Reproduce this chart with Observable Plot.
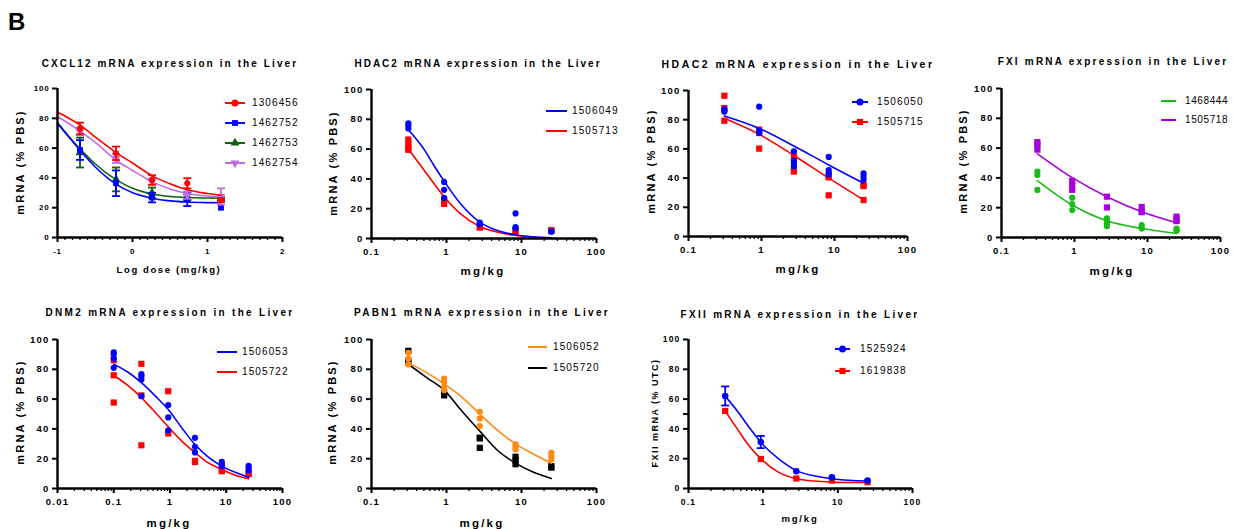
<!DOCTYPE html>
<html><head><meta charset="utf-8">
<script src="https://cdn.jsdelivr.net/npm/d3@7"></script>
<script src="https://cdn.jsdelivr.net/npm/@observablehq/plot@0.6"></script>
<style>
body{margin:0;background:#fff;}
#root{position:relative;width:1233px;height:529px;overflow:hidden;background:#fff;font-family:Arial,"Liberation Sans",Helvetica,sans-serif;color:#000;}
.abs{position:absolute;white-space:nowrap;line-height:1;}
</style></head>
<body><div id="root"></div>
<script>
// ---------------- DATA ----------------
// Panel 1: CXCL12 (log dose, mean ± error)
const cxclLogDose = [-0.7, -0.22, 0.26, 0.73, 1.18];
const cxclSeries = ["1306456", "1462752", "1462753", "1462754"];
const cxcl_1306456_mean = [73.2, 56.5, 38.6, 36.4, 25.0];
const cxcl_1306456_err  = [3.9, 4.5, 3.2, 3.4, 1.2];
const cxcl_1462752_mean = [58.7, 36.4, 26.8, 25.7, 20.0];
const cxcl_1462752_err  = [6.6, 8.6, 3.2, 4.6, 0];
const cxcl_1462753_mean = [57.0, 39.0, 30.0, 27.0, 26.0];
const cxcl_1462753_err  = [10.0, 8.0, 3.5, 2.0, 1.0];
const cxcl_1462754_mean = [71.0, 53.0, 37.5, 28.5, 27.5];
const cxcl_1462754_err  = [2.5, 3.0, 2.0, 2.5, 5.5];
const cxclCurveLogDose  = [-1, -0.85, -0.7, -0.5, -0.22, 0, 0.26, 0.5, 0.73, 1, 1.18];
const cxcl_1306456_fit  = [84.2, 80, 75.5, 67.5, 57, 50, 41.5, 36, 32, 29.5, 28.3];
const cxcl_1462752_fit  = [76.6, 67.5, 58.5, 47.5, 35.8, 30, 26.4, 24.6, 23.8, 23.4, 23.3];
const cxcl_1462753_fit  = [77, 68, 59.5, 49.5, 38.8, 33, 29.2, 27.5, 26.8, 26.5, 26.4];
const cxcl_1462754_fit  = [81, 76.5, 71.4, 64, 52, 45, 37.5, 32.5, 29.5, 27.8, 27.2];

// Common dose levels (mg/kg)
const doses5 = [0.31, 0.93, 2.78, 8.33, 25];
const doses6 = [0.1, 0.31, 0.93, 2.78, 8.33, 25];

// Panel 2: HDAC2 (replicates)
const hdac2a_1506049 = [[77.3, 75.9, 73.9], [38, 32.7, 27.3], [10.7, 9.5], [16.8, 7.7, 6.8], [5, 4.5]];
const hdac2a_1505713 = [[66.4, 63.6, 61, 59.5], [25.5, 23.2], [7.3, 8], [5.5, 4.5], [5.7, 5]];
const hdac2aFitDose  = [0.31, 0.5, 0.7, 0.93, 1.5, 2.78, 5, 8.33, 15, 25];
const hdac2a_1506049_fit = [73, 60, 48, 38.5, 24, 11, 5, 2.5, 1, 0.5];
const hdac2a_1505713_fit = [60, 46, 36, 28, 17, 8, 4, 2, 1, 0.5];

// Panel 3: HDAC2 (second pair)
const hdac2b_1506050 = [[87.3, 86.1, 85.5], [88.9, 72.5, 70.9], [58.4, 52, 50.5, 48.2], [54.5, 45.5, 43.6, 42.5], [43.2, 41.4, 39.1]];
const hdac2b_1505715 = [[96.4, 88, 79.3], [73.2, 70.9, 60.2], [55, 46, 44.5], [41, 40.5, 28.2], [35.5, 34.5, 25]];
const hdac2b_1506050_fit = [82.5, 74, 62, 49, 36.5];
const hdac2b_1505715_fit = [81, 70, 55.5, 40, 25];

// Panel 4: FXI
const fxi_1468444 = [[44.3, 42, 31.9], [26.7, 22.5, 18.4], [12.8, 11.7, 9.4, 7.6], [8.3, 6.7, 6], [6, 4.9, 4.5]];
const fxi_1505718 = [[64, 62, 59], [38, 35, 32], [27.4, 20.2], [20.5, 18, 17], [14, 12, 11]];
const fxi_1468444_fit = [38.2, 21.8, 11.2, 6, 2.7];
const fxi_1505718_fit = [56.2, 40.2, 27.4, 17.3, 9.9];

// Panel 5: DNM2
const dnm2_1506053 = [[91.3, 89.9, 87.2, 81], [76.7, 75.4, 73.2, 62], [56, 47.7, 39.1], [34, 28, 24.2], [17.9, 16.3, 15], [15.2, 14.1, 12.3]];
const dnm2_1505722 = [[86.1, 76, 57.7], [83.7, 62.5, 29], [65.3, 36.9], [18.5, 17.8], [11.6, 12.3], [10.5, 9.6]];
const dnm2FitDose = [0.1, 0.18, 0.31, 0.55, 0.93, 1.6, 2.78, 4.8, 8.33, 14, 25];
const dnm2_1506053_fit = [83.5, 78, 71, 62, 53, 41, 29.5, 21, 15, 11, 7.5];
const dnm2_1505722_fit = [76, 69, 61, 51, 41.4, 32, 24.2, 17.2, 12.8, 9, 6.5];

// Panel 6: PABN1
const pabn1_1506052 = [[91.1, 87, 83.3], [73.7, 71.4, 68.3, 66], [51.5, 47, 41.9], [29.7, 27.9, 26.2], [24, 21.7, 19.5]];
const pabn1_1505720 = [[92.4, 86, 84.4], [64.3, 62.5], [34.1, 33.6, 27.3], [21.3, 19, 16.3], [15, 14]];
const pabn1FitDose = [0.31, 0.55, 0.93, 1.6, 2.78, 4.8, 8.33, 14, 25];
const pabn1_1506052_fit = [84.3, 77.6, 70.2, 61.3, 50, 39, 30, 23.5, 17];
const pabn1_1505720_fit = [83.4, 74.3, 66, 52, 38.5, 25.5, 17, 11.2, 6.7];

// Panel 7: FXII (mean ± error)
const fxii_1525924_mean = [62.1, 31.2, 11.6, 7.6, 5.3];
const fxii_1525924_err  = [6.4, 4.1, 0, 0, 0];
const fxii_1619838_mean = [52.1, 19.8, 6.7, 5.3, 4.2];
const fxii_1619838_err  = [0, 0, 0, 0, 0];
const fxiiFitDose = [0.31, 0.45, 0.65, 0.93, 1.6, 2.78, 4.8, 8.33, 14, 25];
const fxii_1525924_fit = [62, 52, 41, 31, 20, 12, 8.5, 6.5, 5.5, 5];
const fxii_1619838_fit = [52, 40, 28.5, 20, 11, 6.5, 5, 4.3, 4, 4];

// Tick values
const yTicks = [0, 20, 40, 60, 80, 100];
const linTicks = [-1, 0, 1, 2];
const logTicks3 = [0.1, 1, 10, 100];
const logTicks4 = [0.01, 0.1, 1, 10, 100];

// Colors
const RED = "#ff0000", BLUE = "#0000ff", DKGREEN = "#0b620b", LAVENDER = "#bf6be3",
      GREEN = "#1cbb1c", PURPLE = "#a700df", ORANGE = "#ff8a12", BLACK = "#000000";

// ---------------- HELPERS ----------------
const FONT = 'Arial, "Liberation Sans", Helvetica, sans-serif';
const root = document.getElementById("root");

function txt(str, x, y, o = {}) {
  const d = document.createElement("div");
  d.className = "abs";
  d.textContent = str;
  const tx = o.anchor === "start" ? "0" : "-50%";
  Object.assign(d.style, {
    left: x + "px", top: y + "px",
    fontSize: (o.size || 10) + "px",
    fontWeight: o.weight || "bold",
    letterSpacing: (o.ls ?? 1.5) + "px",
    transform: `translate(${tx},-50%)`
  });
  if (o.rotate) d.style.transform = "translate(-50%,-50%) rotate(-90deg)";
  root.appendChild(d);
}

const capSymbol = {draw(c, size) { const r = Math.sqrt(size / Math.PI); c.moveTo(-r, 0); c.lineTo(r, 0); }};
const symMap = {circle: d3.symbolCircle, square: d3.symbolSquare, triangle: d3.symbolTriangle};

function reps(doses, values) { return doses.flatMap((d, i) => values[i].map(v => ({x: d, y: v}))); }
function fit(xs, ys) { return xs.map((x, i) => ({x, y: ys[i]})); }
function meanErr(xs, m, e) { return xs.map((x, i) => ({x, y: m[i], lo: m[i] - e[i], hi: m[i] + e[i], e: e[i]})); }

function seriesMarks({fitRows, pts, color, symbol = "circle", r = 3, rotate = 0, err = false}) {
  const marks = [Plot.line(fitRows, {x: "x", y: "y", stroke: color, strokeWidth: 1.6, curve: "monotone-x"})];
  if (err) {
    const er = pts.filter(d => d.e > 0);
    marks.push(Plot.link(er, {x1: "x", x2: "x", y1: "lo", y2: "hi", stroke: color, strokeWidth: 1.8}));
    marks.push(Plot.dot(er, {x: "x", y: "lo", symbol: capSymbol, r: 4, stroke: color, strokeWidth: 1.8}));
    marks.push(Plot.dot(er, {x: "x", y: "hi", symbol: capSymbol, r: 4, stroke: color, strokeWidth: 1.8}));
  }
  marks.push(Plot.dot(pts, {x: "x", y: "y", fill: color, r, symbol, rotate}));
  return marks;
}

function logMinor(lo, hi) { const out = []; for (let e = lo; e < hi; e++) for (let k = 2; k <= 9; k++) out.push(+(k * 10 ** e).toPrecision(3)); return out; }

function panel(cfg, marks) {
  const mL = 50, mR = 12, mT = 10, mB = 34;
  const w = cfg.x1 - cfg.x0, h = cfg.y0 - cfg.y100;
  const fs = cfg.tickFont || 9.5;
  const svg = Plot.plot({
    width: w + mL + mR, height: h + mT + mB,
    marginLeft: mL, marginRight: mR, marginTop: mT, marginBottom: mB,
    x: {type: cfg.xType, domain: cfg.xDomain},
    y: {domain: [0, 100]},
    style: `font-family:${FONT};font-size:${fs}px;font-weight:bold;letter-spacing:${cfg.tickLs ?? 1.2}px;overflow:visible;background:transparent;color:#000;`,
    marks: [
      ...marks,
      Plot.axisY({ticks: yTicks, tickSize: 5, tickPadding: 3, strokeWidth: 2, label: null, tickFormat: d => String(d), fontSize: fs, fontWeight: "bold"}),
      ...(cfg.yMinor ? [Plot.axisY({ticks: cfg.yMinor, tickSize: 5, strokeWidth: 2, label: null, tickFormat: () => ""})] : []),
      Plot.axisX({ticks: cfg.xMajor, tickSize: 5, tickPadding: cfg.xPad ?? 5, strokeWidth: 2, label: null, tickFormat: d => String(d), fontSize: fs, fontWeight: "bold"}),
      Plot.axisX({ticks: cfg.xMinor, tickSize: 3, strokeWidth: 1.3, label: null, tickFormat: () => ""}),
      Plot.ruleX([cfg.xDomain[0]], {strokeWidth: 2.4, stroke: "#000"}),
      Plot.ruleY([0], {strokeWidth: 2.4, stroke: "#000"})
    ]
  });
  Object.assign(svg.style, {position: "absolute", left: (cfg.x0 - mL) + "px", top: (cfg.y100 - mT) + "px"});
  root.appendChild(svg);
}

function legend(items, x1, x2, textX, o = {}) {
  items.forEach(it => {
    const svg = d3.create("svg").attr("width", x2 - x1 + 12).attr("height", 14)
      .style("position", "absolute").style("left", (x1 - 6) + "px").style("top", (it.y - 7) + "px").style("overflow", "visible");
    svg.append("line").attr("x1", 6).attr("x2", 6 + x2 - x1).attr("y1", 7).attr("y2", 7)
      .attr("stroke", it.color).attr("stroke-width", 2);
    if (it.symbol) {
      const r = it.r || 3.5;
      svg.append("path").attr("d", d3.symbol().type(symMap[it.symbol]).size(Math.PI * r * r)())
        .attr("transform", `translate(${6 + (x2 - x1) / 2},7) rotate(${it.rotate || 0})`).attr("fill", it.color);
    }
    root.appendChild(svg.node());
    txt(it.label, textX, it.y, {anchor: "start", weight: "normal", size: o.size || 10, ls: o.ls ?? 1.1});
  });
}

// ---------------- DRAW ----------------
txt("B", 8, 22, {anchor: "start", size: 24, ls: 0});

// Panel 1: CXCL12
panel({x0: 57, x1: 282, y100: 88, y0: 237, xType: "linear", xDomain: [-1, 2], xMajor: linTicks,
  xMinor: d3.range(-10, 21).filter(i => i % 10 !== 0).map(i => i / 10), tickFont: 8, tickLs: 0.8, xPad: 6}, [
  ...seriesMarks({fitRows: fit(cxclCurveLogDose, cxcl_1462753_fit), pts: meanErr(cxclLogDose, cxcl_1462753_mean, cxcl_1462753_err), color: DKGREEN, symbol: "triangle", r: 3.3, err: true}),
  ...seriesMarks({fitRows: fit(cxclCurveLogDose, cxcl_1462752_fit), pts: meanErr(cxclLogDose, cxcl_1462752_mean, cxcl_1462752_err), color: BLUE, symbol: "square", r: 3.3, err: true}),
  ...seriesMarks({fitRows: fit(cxclCurveLogDose, cxcl_1462754_fit), pts: meanErr(cxclLogDose, cxcl_1462754_mean, cxcl_1462754_err), color: LAVENDER, symbol: "triangle", rotate: 180, r: 3.3, err: true}),
  ...seriesMarks({fitRows: fit(cxclCurveLogDose, cxcl_1306456_fit), pts: meanErr(cxclLogDose, cxcl_1306456_mean, cxcl_1306456_err), color: RED, symbol: "circle", r: 3, err: true})
]);
txt("CXCL12 mRNA expression in the Liver", 170, 64, {size: 10, ls: 2.1});
txt("mRNA (% PBS)", 20, 162, {size: 11, ls: 2.2, rotate: true});
txt("Log dose (mg/kg)", 169, 270, {size: 9.5, ls: 1.6});
legend([
  {label: cxclSeries[0], y: 103, color: RED, symbol: "circle", r: 3.5},
  {label: cxclSeries[1], y: 123, color: BLUE, symbol: "square", r: 3.3},
  {label: cxclSeries[2], y: 143, color: DKGREEN, symbol: "triangle", r: 3.3},
  {label: cxclSeries[3], y: 163, color: LAVENDER, symbol: "triangle", rotate: 180, r: 3.3}
], 225, 245, 252);

// Panel 2: HDAC2
panel({x0: 371, x1: 596, y100: 89, y0: 238, xType: "log", xDomain: [0.1, 100], xMajor: logTicks3, xMinor: logMinor(-1, 2)}, [
  ...seriesMarks({fitRows: fit(hdac2aFitDose, hdac2a_1505713_fit), pts: reps(doses5, hdac2a_1505713), color: RED, symbol: "square", r: 3.5}),
  ...seriesMarks({fitRows: fit(hdac2aFitDose, hdac2a_1506049_fit), pts: reps(doses5, hdac2a_1506049), color: BLUE, symbol: "circle", r: 3.1})
]);
txt("HDAC2 mRNA expression in the Liver", 478, 64, {size: 10, ls: 2.0});
txt("mRNA (% PBS)", 333, 163, {size: 11, ls: 2.2, rotate: true});
txt("mg/kg", 483, 272, {size: 11.5, ls: 2.2});
legend([{label: "1506049", y: 111, color: BLUE}, {label: "1505713", y: 131, color: RED}], 546, 567, 572);

// Panel 3: HDAC2
panel({x0: 688, x1: 907, y100: 90, y0: 236, xType: "log", xDomain: [0.1, 100], xMajor: logTicks3, xMinor: logMinor(-1, 2)}, [
  ...seriesMarks({fitRows: fit(doses5, hdac2b_1505715_fit), pts: reps(doses5, hdac2b_1505715), color: RED, symbol: "square", r: 3.5}),
  ...seriesMarks({fitRows: fit(doses5, hdac2b_1506050_fit), pts: reps(doses5, hdac2b_1506050), color: BLUE, symbol: "circle", r: 3.1})
]);
txt("HDAC2 mRNA expression in the Liver", 798, 64, {size: 10.5, ls: 2.5});
txt("mRNA (% PBS)", 651, 161, {size: 11, ls: 2.2, rotate: true});
txt("mg/kg", 798, 270, {size: 11.5, ls: 2.2});
legend([{label: "1506050", y: 102, color: BLUE, symbol: "circle", r: 3.5}, {label: "1505715", y: 122, color: RED, symbol: "square", r: 3.5}], 852, 868, 877);

// Panel 4: FXI
panel({x0: 1001, x1: 1220, y100: 88, y0: 237, xType: "log", xDomain: [0.1, 100], xMajor: logTicks3, xMinor: logMinor(-1, 2)}, [
  ...seriesMarks({fitRows: fit(doses5, fxi_1505718_fit), pts: reps(doses5, fxi_1505718), color: PURPLE, symbol: "square", r: 3.5}),
  ...seriesMarks({fitRows: fit(doses5, fxi_1468444_fit), pts: reps(doses5, fxi_1468444), color: GREEN, symbol: "circle", r: 3.1})
]);
txt("FXI mRNA expression in the Liver", 1113, 62, {size: 10, ls: 2.2});
txt("mRNA (% PBS)", 963, 161, {size: 11, ls: 2.2, rotate: true});
txt("mg/kg", 1112, 272, {size: 11.5, ls: 2.2});
legend([{label: "1468444", y: 101, color: GREEN}, {label: "1505718", y: 120, color: PURPLE}], 1161, 1176, 1185, {ls: 0.6});

// Panel 5: DNM2
panel({x0: 57, x1: 282, y100: 339, y0: 488, xType: "log", xDomain: [0.01, 100], xMajor: logTicks4, xMinor: logMinor(-2, 2)}, [
  ...seriesMarks({fitRows: fit(dnm2FitDose, dnm2_1505722_fit), pts: reps(doses6, dnm2_1505722), color: RED, symbol: "square", r: 3.5}),
  ...seriesMarks({fitRows: fit(dnm2FitDose, dnm2_1506053_fit), pts: reps(doses6, dnm2_1506053), color: BLUE, symbol: "circle", r: 3.1})
]);
txt("DNM2 mRNA expression in the Liver", 170, 313, {size: 10, ls: 2.3});
txt("mRNA (% PBS)", 20, 412, {size: 11, ls: 2.2, rotate: true});
txt("mg/kg", 169, 524, {size: 11.5, ls: 2.2});
legend([{label: "1506053", y: 352, color: BLUE}, {label: "1505722", y: 372, color: RED}], 217, 237, 242);

// Panel 6: PABN1
panel({x0: 371, x1: 596, y100: 339, y0: 488, xType: "log", xDomain: [0.1, 100], xMajor: logTicks3, xMinor: logMinor(-1, 2)}, [
  ...seriesMarks({fitRows: fit(pabn1FitDose, pabn1_1505720_fit), pts: reps(doses5, pabn1_1505720), color: BLACK, symbol: "square", r: 3.5}),
  ...seriesMarks({fitRows: fit(pabn1FitDose, pabn1_1506052_fit), pts: reps(doses5, pabn1_1506052), color: ORANGE, symbol: "circle", r: 3.1})
]);
txt("PABN1 mRNA expression in the Liver", 482, 313, {size: 10, ls: 2.3});
txt("mRNA (% PBS)", 332, 412, {size: 11, ls: 2.2, rotate: true});
txt("mg/kg", 482, 524, {size: 11.5, ls: 2.2});
legend([{label: "1506052", y: 347, color: ORANGE}, {label: "1505720", y: 368, color: BLACK}], 528, 547, 553);

// Panel 7: FXII
panel({x0: 688, x1: 912, y100: 339, y0: 488, xType: "log", xDomain: [0.1, 100], xMajor: logTicks3, xMinor: logMinor(-1, 2), yMinor: [50], tickFont: 8.5}, [
  ...seriesMarks({fitRows: fit(fxiiFitDose, fxii_1619838_fit), pts: meanErr(doses5, fxii_1619838_mean, fxii_1619838_err), color: RED, symbol: "square", r: 3.5, err: true}),
  ...seriesMarks({fitRows: fit(fxiiFitDose, fxii_1525924_fit), pts: meanErr(doses5, fxii_1525924_mean, fxii_1525924_err), color: BLUE, symbol: "circle", r: 3.3, err: true})
]);
txt("FXII mRNA expression in the Liver", 800, 315, {size: 10, ls: 2.3});
txt("FXII mRNA (% UTC)", 655, 413, {size: 9, ls: 1.5, rotate: true});
txt("mg/kg", 800, 519, {size: 9.5, ls: 1.8});
legend([{label: "1525924", y: 349, color: BLUE, symbol: "circle", r: 3.5}, {label: "1619838", y: 371, color: RED, symbol: "square", r: 3.5}], 835, 850, 860);
</script>
</body></html>
